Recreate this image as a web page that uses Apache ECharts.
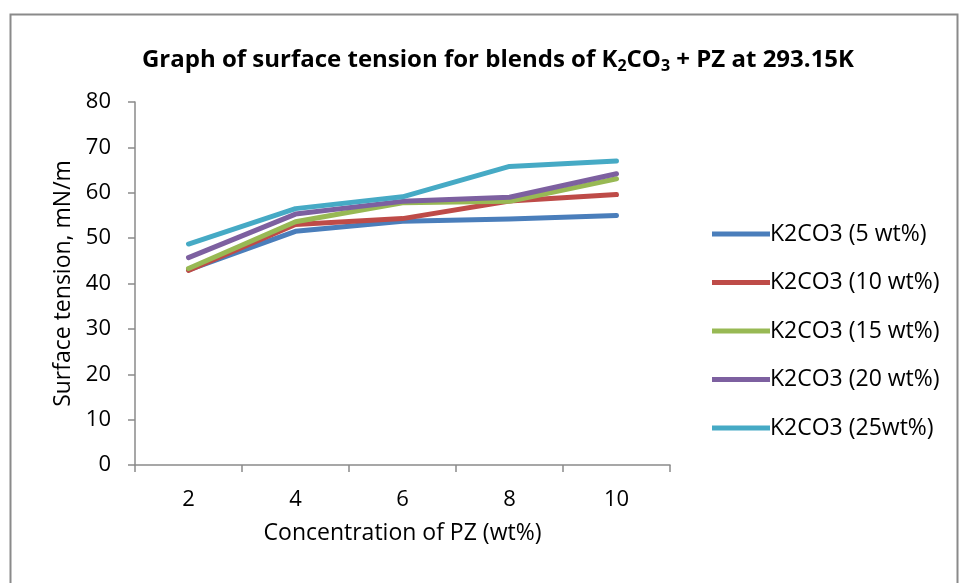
<!DOCTYPE html>
<html><head><meta charset="utf-8">
<script src="https://cdn.jsdelivr.net/npm/echarts@6/dist/echarts.min.js"></script>
<style>html,body{margin:0;padding:0;background:#fff}#c{width:963px;height:583px}</style>
</head><body><div id="c"></div>
<script>
const categories = ['2', '4', '6', '8', '10'];
const seriesNames = ['K2CO3 (5 wt%)', 'K2CO3 (10 wt%)', 'K2CO3 (15 wt%)', 'K2CO3 (20 wt%)', 'K2CO3 (25wt%)'];
const s5  = [43.0, 51.5, 53.7, 54.2, 55.0];
const s10 = [42.9, 53.0, 54.3, 58.2, 59.6];
const s15 = [43.3, 53.6, 57.8, 58.1, 63.1];
const s20 = [45.7, 55.3, 58.1, 59.0, 64.2];
const s25 = [48.7, 56.5, 59.1, 65.8, 67.0];
const colors = ['#4a7ebb', '#be4b48', '#98b954', '#7d60a0', '#46aac5'];
const allData = [s5, s10, s15, s20, s25];
const FONT = '"Open Sans", "Liberation Sans", sans-serif';

const chart = echarts.init(document.getElementById('c'), null, {renderer: 'canvas'});
chart.setOption({
  animation: false,
  backgroundColor: '#fff',
  graphic: [{
    type: 'rect', left: 8, top: 12, shape: {width: 947, height: 600},
    style: {fill: 'none', stroke: '#8a8a8a', lineWidth: 2}
  }],
  title: {
    text: 'Graph of surface tension for blends of K{s|2}CO{s|3} + PZ at 293.15K',
    left: 493, top: 41, textAlign: 'center',
    textStyle: {
      fontFamily: FONT, fontSize: 24, fontWeight: 'bold', color: '#000',
      rich: {s: {fontFamily: FONT, fontSize: 16, fontWeight: 'bold', color: '#000', verticalAlign: 'bottom', padding: [12, 0, 0, 0]}}
    }
  },
  legend: {
    orient: 'vertical', left: 707, top: 216, itemGap: 22.5,
    itemWidth: 58, itemHeight: 5,
    icon: 'rect',
    textStyle: {fontFamily: FONT, fontSize: 23, lineHeight: 26, color: '#000', padding: [0, 0, 0, -5]},
    data: seriesNames
  },
  grid: {left: 135, right: 293, top: 102, bottom: 118},
  xAxis: {
    type: 'category', data: categories, boundaryGap: true,
    name: 'Concentration of PZ (wt%)', nameLocation: 'middle', nameGap: 57,
    nameTextStyle: {fontFamily: FONT, fontSize: 23, color: '#000'},
    axisLine: {lineStyle: {color: '#8a8a8a', width: 1.5}},
    axisTick: {show: true, length: 7, lineStyle: {color: '#8a8a8a', width: 1.5}},
    axisLabel: {fontFamily: FONT, fontSize: 22, color: '#000', margin: 24}
  },
  yAxis: {
    type: 'value', min: 0, max: 80, interval: 10,
    name: 'Surface tension, mN/m', nameLocation: 'middle', nameGap: 58,
    nameTextStyle: {fontFamily: FONT, fontSize: 23, color: '#000'},
    axisLine: {show: true, lineStyle: {color: '#8a8a8a', width: 1.5}},
    axisTick: {show: true, length: 7, lineStyle: {color: '#8a8a8a', width: 1.5}},
    splitLine: {show: false},
    axisLabel: {fontFamily: FONT, fontSize: 22, color: '#000', margin: 24}
  },
  series: seriesNames.map((n, i) => ({
    name: n, type: 'line', data: allData[i], showSymbol: false, symbol: 'none',
    lineStyle: {width: 5, color: colors[i], cap: 'round', join: 'round'},
    itemStyle: {color: colors[i]}
  }))
});
</script></body></html>
